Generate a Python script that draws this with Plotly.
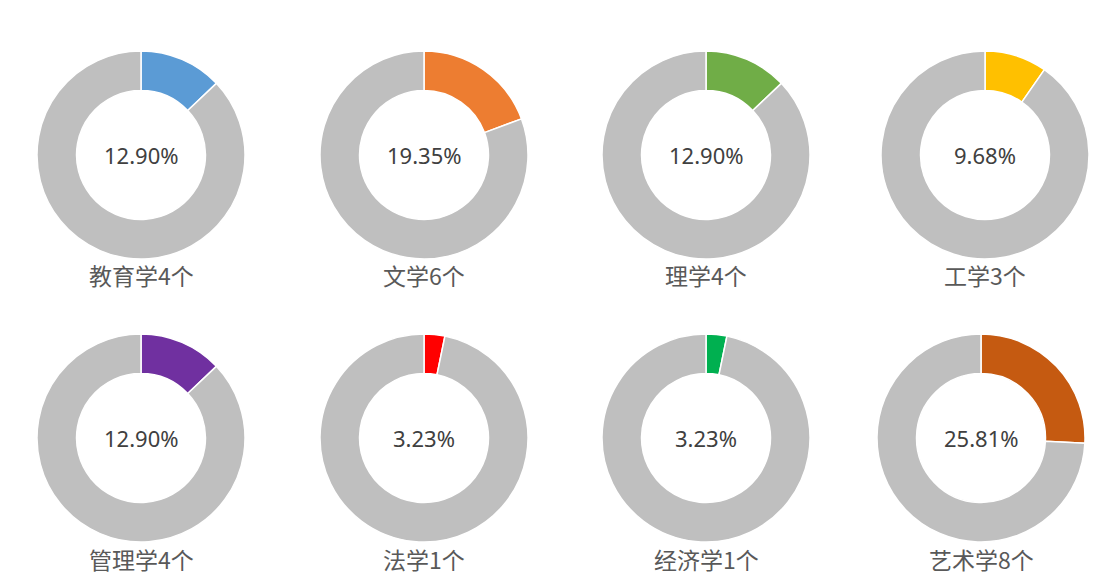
import plotly.graph_objects as go

subjects = ["教育学", "文学", "理学", "工学", "管理学", "法学", "经济学", "艺术学"]
counts = [4, 6, 4, 3, 4, 1, 1, 8]
colors = ["#5B9BD5", "#ED7D31", "#70AD47", "#FFC000", "#7030A0", "#FF0000", "#00B050", "#C55A11"]
rest_color = "#BFBFBF"

# page body has an 8px margin, so the figure is drawn 8px in from top-left
OFF = 8
W, H = 1100, 570
centers_x = [141, 424, 706, 985, 141, 424, 706, 981]
centers_y = [155, 155, 155, 155, 438, 438, 438, 438]
radius = 104
label_y = [275, 275, 275, 275, 559, 559, 559, 559]

total = sum(counts)
fig = go.Figure()
annotations = []
for i, (s, c, col) in enumerate(zip(subjects, counts, colors)):
    cx, cy = centers_x[i] - OFF, centers_y[i] - OFF
    fig.add_trace(go.Pie(
        values=[c, total - c],
        labels=[s, "其他"],
        marker=dict(colors=[col, rest_color], line=dict(color="white", width=1.5)),
        hole=0.62,
        sort=False,
        direction="clockwise",
        rotation=0,
        textinfo="none",
        hoverinfo="label+value+percent",
        showlegend=False,
        domain=dict(x=[(cx - radius) / W, (cx + radius) / W],
                    y=[1 - (cy + radius) / H, 1 - (cy - radius) / H]),
    ))
    annotations.append(dict(
        x=cx / W, y=1 - cy / H, xref="paper", yref="paper",
        text=f"{c / total * 100:.2f}%", showarrow=False,
        font=dict(family="Noto Sans, Noto Sans CJK SC", size=22, color="#404040"),
        xanchor="center", yanchor="middle",
    ))
    annotations.append(dict(
        x=cx / W, y=1 - (label_y[i] - OFF) / H, xref="paper", yref="paper",
        text=f"{s}{c}个", showarrow=False,
        font=dict(family="Noto Sans CJK SC", size=23, color="#595959"),
        xanchor="center", yanchor="middle",
    ))

fig.update_layout(
    width=W, height=H,
    margin=dict(l=0, r=0, t=0, b=0),
    paper_bgcolor="white", plot_bgcolor="white",
    annotations=annotations,
)
fig.write_html("out.html")
